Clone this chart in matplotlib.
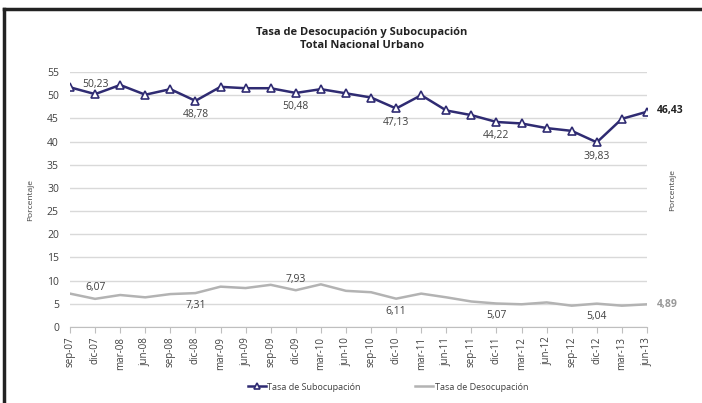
import matplotlib.pyplot as plt
from matplotlib.lines import Line2D

# quarterly periods, sep-07 .. jun-13
periodos = ['sep-07', 'dic-07', 'mar-08', 'jun-08', 'sep-08', 'dic-08', 'mar-09', 'jun-09',
            'sep-09', 'dic-09', 'mar-10', 'jun-10', 'sep-10', 'dic-10', 'mar-11', 'jun-11',
            'sep-11', 'dic-11', 'mar-12', 'jun-12', 'sep-12', 'dic-12', 'mar-13', 'jun-13']

subocupacion = [51.7, 50.23, 52.2, 50.1, 51.3, 48.78, 51.8, 51.5, 51.5, 50.48, 51.3, 50.4,
                49.5, 47.13, 50.0, 46.7, 45.7, 44.22, 43.9, 42.9, 42.3, 39.83, 44.9, 46.43]
desocupacion = [7.2, 6.07, 6.9, 6.4, 7.1, 7.31, 8.7, 8.4, 9.1, 7.93, 9.2, 7.8,
                7.5, 6.11, 7.2, 6.4, 5.5, 5.07, 4.9, 5.3, 4.6, 5.04, 4.6, 4.89]

# which points get a value label, and where (above / below)
etiq_sub = {1: 'above', 5: 'below', 9: 'below', 13: 'below', 17: 'below', 21: 'below'}
etiq_des = {1: 'above', 5: 'below', 9: 'above', 13: 'below', 17: 'below', 21: 'below'}

navy = '#2f2b72'
gris = '#b3b3b3'
txt = '#404040'

plt.rcParams['font.family'] = ['Open Sans', 'DejaVu Sans']

fig = plt.figure(figsize=(7.02, 4.03), dpi=100)
ax = fig.add_axes([70/702, 1-327/403, 577/702, 255/403])

x = list(range(len(periodos)))
ax.plot(x, subocupacion, color=navy, lw=1.8, marker='^', ms=5.5,
        mfc='white', mec=navy, mew=1.2, label='Tasa de Subocupación', zorder=3)
ax.plot(x, desocupacion, color=gris, lw=1.8, label='Tasa de Desocupación', zorder=3)

def fmt(v):
    return f'{v:.2f}'.replace('.', ',')

for i, pos in etiq_sub.items():
    dy = 7 if pos == 'above' else -10
    ax.annotate(fmt(subocupacion[i]), (i, subocupacion[i]), xytext=(0, dy),
                textcoords='offset points', ha='center', va='center', fontsize=7.5, color=txt)
for i, pos in etiq_des.items():
    dy = 8 if pos == 'above' else -9
    ax.annotate(fmt(desocupacion[i]), (i, desocupacion[i]), xytext=(0, dy),
                textcoords='offset points', ha='center', va='center', fontsize=7.5, color=txt)

ax.annotate(fmt(subocupacion[-1]), (x[-1], subocupacion[-1]), xytext=(7, 1),
            textcoords='offset points', ha='left', va='center', fontsize=7.5,
            fontweight='bold', color='#222222')
ax.annotate(fmt(desocupacion[-1]), (x[-1], desocupacion[-1]), xytext=(7, 0),
            textcoords='offset points', ha='left', va='center', fontsize=7.5,
            fontweight='bold', color='#999999')

ax.set_xlim(0, len(periodos) - 1)
ax.set_ylim(0, 55)
ax.set_yticks(range(0, 56, 5))
ax.set_xticks(x)
ax.set_xticklabels(periodos, rotation=90, fontsize=7, color=txt)
ax.tick_params(axis='y', length=0, labelsize=7.5, labelcolor=txt, pad=8)
ax.tick_params(axis='x', length=4, color='#bfbfbf', pad=3)
ax.grid(axis='y', color='#d9d9d9', lw=1)
ax.set_axisbelow(True)
for s in ['top', 'right', 'left']:
    ax.spines[s].set_visible(False)
ax.spines['bottom'].set_color('#bfbfbf')

fig.text(31/702, 1-200/403, 'Porcentaje', rotation=90, fontsize=6, color=txt,
         ha='center', va='center')
fig.text(673/702, 1-190/403, 'Porcentaje', rotation=90, fontsize=6, color=txt,
         ha='center', va='center')

fig.text(362/702, 1-33/403, 'Tasa de Desocupación y Subocupación', fontsize=8,
         fontweight='bold', color='#222222', ha='center', va='center')
fig.text(362/702, 1-46/403, 'Total Nacional Urbano', fontsize=8,
         fontweight='bold', color='#222222', ha='center', va='center')

fig.legend(loc='center', bbox_to_anchor=(388/702, 1-387/403), ncol=2, frameon=False,
           fontsize=6.5, handlelength=2.0, handletextpad=0.2, columnspacing=6,
           labelcolor=txt, markerscale=0.8)

# outer frame (top and left edges)
fig.add_artist(Line2D([4/702, 1], [1-9/403, 1-9/403], color='#222222', lw=2.5))
fig.add_artist(Line2D([4/702, 4/702], [0, 1-9/403], color='#222222', lw=2.5))

fig.savefig('out.png', dpi=100)
